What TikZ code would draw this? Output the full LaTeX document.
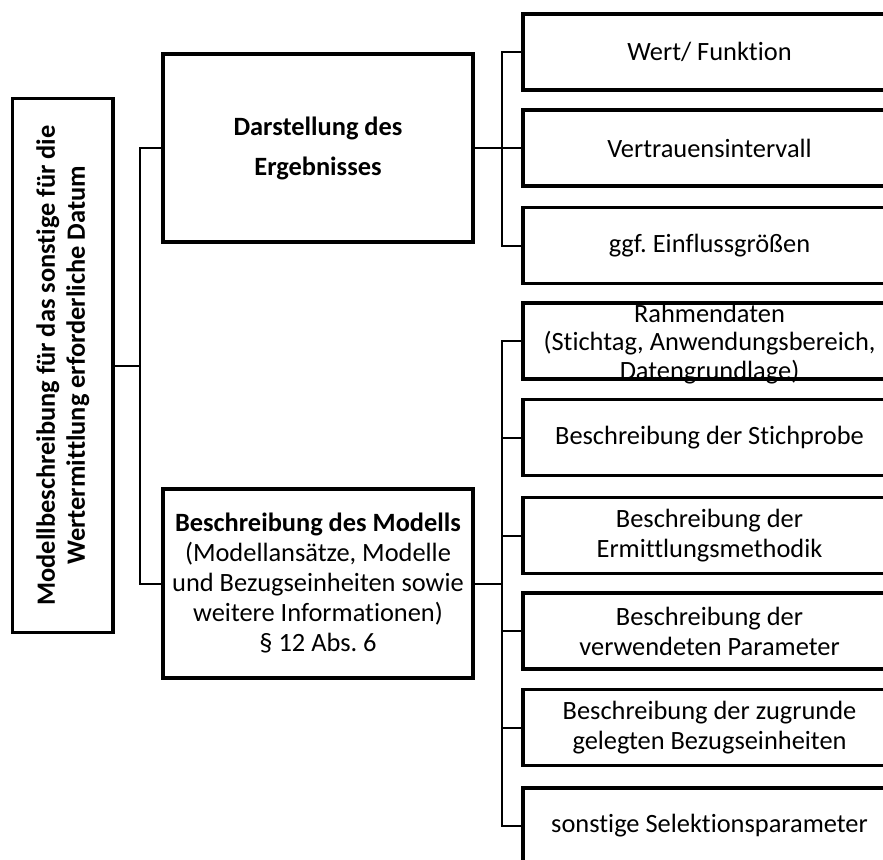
\documentclass[tikz,border=0pt]{standalone}
\usepackage{fontspec}
\setmainfont{Carlito}[Ligatures={NoCommon}]
\frenchspacing
\begin{document}
\begin{tikzpicture}[x=1pt,y=-1pt,
  box/.style={draw, line width=3.6pt, inner sep=0pt, align=center, font=\fontsize{26.4}{30}\selectfont},
  midbox/.style={box, minimum width=310pt},
  rbox/.style={box, minimum width=373pt, minimum height=76pt},
  conn/.style={line width=2pt}]
\useasboundingbox (0,0) rectangle (883,859);
\clip (0,0) rectangle (883,859);
% root
\node[draw, line width=3.6pt, inner sep=0pt, minimum width=100.5pt, minimum height=534pt] (root) at (62.75,365.5) {};
\node[rotate=90, align=center, inner sep=0pt, font=\bfseries\fontsize{26.4}{30}\selectfont] (roottext) at (root.center) {Modellbeschreibung für das sonstige für die\\Wertermittlung erforderliche Datum};
% middle
\node[midbox, minimum height=188pt, font=\bfseries\fontsize{26.4}{40}\selectfont] (dar) at (318,148) {Darstellung des\\Ergebnisses};
\node[midbox, minimum height=189pt] (mod) at (318,583.5) {\textbf{Beschreibung des Modells}\\(Modellansätze, Modelle\\und Bezugseinheiten sowie\\weitere Informationen)\\§ 12 Abs. 6};
% right
\node[rbox] (r1) at (709.5,52) {Wert/ Funktion};
\node[rbox] (r2) at (709.5,148) {Vertrauensintervall};
\node[rbox] (r3) at (709.5,245.5) {ggf. Einflussgrößen};
\node[rbox] (r4) at (709.5,341) {};
\node[align=center, inner sep=0pt, font=\fontsize{26.4}{28.5}\selectfont] (r4t) at ([yshift=-3pt]r4.center) {Rahmendaten\\(Stichtag, Anwendungsbereich,\\Datengrundlage)};
\node[rbox] (r5) at (709.5,437.5) {Beschreibung der Stichprobe};
\node[rbox] (r6) at (709.5,535.5) {Beschreibung der\\Ermittlungsmethodik};
\node[rbox] (r7) at (709.5,631) {Beschreibung der\\verwendeten Parameter};
\node[rbox] (r8) at (709.5,727.5) {Beschreibung der zugrunde\\gelegten Bezugseinheiten};
\node[rbox] (r9) at (709.5,826) {sonstige Selektionsparameter};
% connectors
\draw[conn] (root.east) -- ++(25,0) coordinate (lbus);
\draw[conn] (dar.west) -| (lbus);
\draw[conn] (mod.west) -| (lbus);
\draw[conn] (dar.east) -- ++(27,0) coordinate (rb1);
\foreach \n in {r1,r2,r3} \draw[conn] (\n.west) -| (rb1);
\draw[conn] (mod.east) -- ++(27,0) coordinate (rb2);
\foreach \n in {r4,r5,r6,r7,r8,r9} \draw[conn] (\n.west) -| (rb2);
\end{tikzpicture}
\end{document}
